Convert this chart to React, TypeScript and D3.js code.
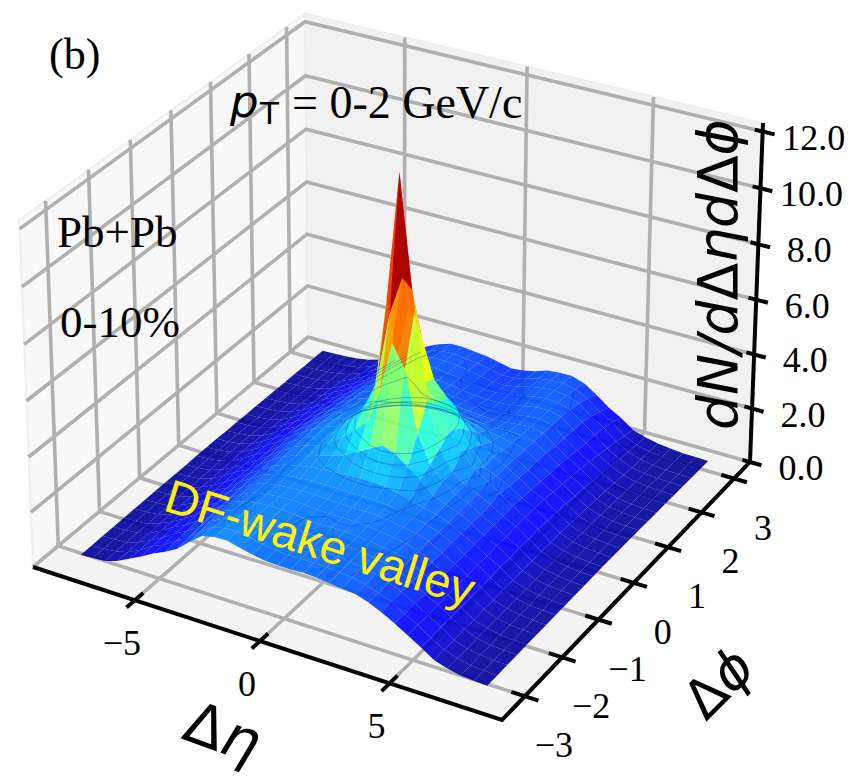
import React from "react";
import * as d3 from "d3";

const etaNodes = d3.range(33).map((i) => -8 + i * 0.5);
const phiNodes = d3.range(25).map((i) => -Math.PI + (i * Math.PI) / 12);

// dN/dDeta dDphi: one row per phi node, one value per eta node
const yieldRows: number[][] = [
  [.20,.22,.25,.40,.62,.85,1.10,1.30,1.55,1.95,2.30,2.40,2.42,2.30,2.20,2.12,2.10,2.10,2.12,2.10,2.05,2.00,1.95,1.80,1.60,1.35,1.08,.80,.50,.35,.25,.22,.20],
  [.20,.22,.27,.38,.60,.88,1.08,1.36,1.62,1.98,2.28,2.38,2.40,2.32,2.24,2.16,2.12,2.14,2.14,2.12,2.08,2.04,1.94,1.78,1.62,1.32,1.10,.78,.52,.36,.26,.22,.20],
  [.21,.23,.26,.41,.62,.86,1.14,1.38,1.66,2.02,2.26,2.36,2.38,2.34,2.26,2.20,2.16,2.16,2.18,2.16,2.12,2.06,1.98,1.82,1.60,1.36,1.08,.82,.50,.34,.27,.23,.21],
  [.21,.24,.28,.40,.64,.90,1.12,1.42,1.70,2.04,2.24,2.34,2.36,2.34,2.28,2.22,2.20,2.20,2.20,2.18,2.14,2.08,2.00,1.84,1.64,1.34,1.12,.80,.53,.36,.26,.24,.21],
  [.22,.23,.27,.43,.63,.88,1.16,1.44,1.72,2.04,2.22,2.30,2.34,2.34,2.30,2.24,2.22,2.24,2.24,2.20,2.16,2.10,2.02,1.88,1.62,1.38,1.10,.84,.51,.37,.28,.23,.22],
  [.22,.24,.29,.42,.66,.92,1.14,1.46,1.74,2.02,2.20,2.28,2.32,2.34,2.32,2.28,2.26,2.26,2.26,2.24,2.18,2.12,2.04,1.90,1.66,1.36,1.14,.82,.54,.36,.27,.24,.22],
  [.22,.25,.28,.44,.65,.90,1.18,1.48,1.76,2.04,2.20,2.28,2.32,2.34,2.34,2.32,2.30,2.30,2.30,2.28,2.22,2.14,2.06,1.92,1.64,1.40,1.12,.86,.52,.38,.29,.25,.22],
  [.23,.24,.30,.43,.67,.94,1.16,1.50,1.78,2.06,2.22,2.30,2.34,2.38,2.38,2.38,2.36,2.36,2.36,2.32,2.24,2.16,2.06,1.90,1.68,1.38,1.16,.84,.55,.37,.28,.25,.23],
  [.23,.25,.29,.45,.66,.92,1.20,1.50,1.78,2.06,2.24,2.32,2.42,2.46,2.50,2.54,2.56,2.56,2.52,2.44,2.32,2.18,2.08,1.92,1.66,1.42,1.14,.88,.54,.39,.30,.25,.23],
  [.23,.26,.31,.44,.68,.96,1.18,1.52,1.80,2.08,2.26,2.36,2.52,2.64,2.80,3.05,3.30,3.55,3.40,3.05,2.72,2.30,2.10,1.94,1.70,1.40,1.18,.86,.56,.38,.29,.26,.23],
  [.23,.25,.30,.46,.67,.94,1.22,1.52,1.82,2.10,2.30,2.42,2.70,3.00,3.40,3.80,5.00,6.90,6.10,3.90,2.95,2.45,2.14,1.96,1.68,1.44,1.16,.90,.55,.40,.31,.25,.23],
  [.24,.26,.32,.45,.70,.96,1.20,1.54,1.84,2.12,2.32,2.46,2.85,3.25,3.90,5.00,7.50,8.90,7.90,4.80,3.20,2.50,2.14,1.96,1.72,1.42,1.20,.88,.57,.39,.30,.26,.24],
  [.24,.27,.33,.47,.70,.98,1.24,1.56,1.86,2.14,2.34,2.50,2.95,3.40,4.20,7.60,12.2,8.20,5.00,4.40,3.50,2.90,2.40,2.10,1.80,1.46,1.20,.90,.56,.40,.31,.26,.24],
  [.24,.26,.32,.45,.70,.96,1.22,1.54,1.84,2.12,2.32,2.46,2.85,3.20,3.70,5.20,7.20,6.20,4.80,4.30,3.30,2.70,2.14,1.96,1.72,1.42,1.20,.88,.57,.39,.30,.26,.24],
  [.23,.26,.31,.44,.68,.96,1.18,1.50,1.80,2.08,2.26,2.40,2.60,2.85,3.15,3.50,3.90,4.00,3.90,3.60,2.90,2.50,2.20,1.98,1.70,1.40,1.18,.86,.54,.38,.29,.26,.23],
  [.23,.25,.30,.44,.66,.92,1.18,1.48,1.76,2.02,2.22,2.32,2.40,2.55,2.70,2.85,2.95,3.00,2.95,2.75,2.50,2.28,2.14,1.96,1.66,1.38,1.12,.84,.53,.37,.28,.25,.23],
  [.22,.24,.29,.42,.64,.90,1.14,1.44,1.72,1.98,2.14,2.22,2.25,2.32,2.38,2.45,2.50,2.50,2.45,2.35,2.25,2.16,2.08,1.96,1.68,1.34,1.10,.80,.50,.36,.27,.24,.22],
  [.22,.24,.28,.40,.60,.86,1.10,1.40,1.68,1.94,2.08,2.14,2.14,2.14,2.15,2.16,2.16,2.14,2.10,2.06,2.02,2.04,2.04,1.94,1.64,1.32,1.04,.76,.48,.34,.26,.23,.21],
  [.21,.23,.27,.38,.56,.82,1.04,1.34,1.62,1.88,2.04,2.10,2.08,2.06,2.04,2.02,2.00,1.96,1.92,1.90,1.92,1.98,2.02,1.92,1.58,1.28,1.00,.70,.46,.32,.25,.22,.20],
  [.21,.22,.26,.36,.52,.78,1.00,1.28,1.58,1.84,2.00,2.06,2.04,2.00,1.96,1.92,1.88,1.84,1.80,1.82,1.88,1.96,2.00,1.90,1.54,1.22,.94,.66,.42,.30,.24,.21,.20],
  [.20,.22,.25,.33,.48,.72,.94,1.20,1.52,1.78,1.96,2.02,2.00,1.96,1.90,1.84,1.78,1.76,1.76,1.80,1.90,1.98,2.00,1.88,1.52,1.18,.88,.60,.38,.28,.23,.20,.19],
  [.20,.21,.25,.32,.44,.66,.88,1.14,1.46,1.72,1.92,2.00,1.98,1.92,1.86,1.78,1.70,1.70,1.76,1.84,1.94,2.00,1.98,1.84,1.50,1.16,.80,.54,.34,.26,.22,.20,.18],
  [.19,.21,.24,.30,.40,.58,.82,1.06,1.38,1.64,1.84,1.94,1.94,1.90,1.84,1.74,1.66,1.66,1.74,1.86,1.94,1.98,1.92,1.76,1.40,1.12,.72,.48,.32,.24,.20,.18,.17],
  [.19,.20,.23,.28,.36,.52,.76,1.00,1.30,1.56,1.76,1.88,1.90,1.84,1.80,1.70,1.60,1.62,1.72,1.86,1.92,1.94,1.84,1.62,1.26,1.00,.62,.42,.30,.23,.19,.18,.16],
  [.18,.20,.22,.26,.34,.48,.70,.95,1.25,1.50,1.70,1.85,1.85,1.80,1.75,1.65,1.55,1.60,1.70,1.85,1.90,1.90,1.75,1.45,1.10,.85,.52,.38,.28,.22,.18,.17,.16],
];

const etaTicks = [-5, 0, 5];
const phiTicks = [-3, -2, -1, 0, 1, 2, 3];
const zTicks = [0, 2, 4, 6, 8, 10, 12];
const contourLevels = [0.4, 0.7, 1, 1.3, 1.6, 1.85, 2.05, 2.25, 2.5, 2.8, 3.1, 3.4];

const etaScale = d3.scaleLinear().domain([-9.2, 9.2]).range([0, 1]);
const phiScale = d3.scaleLinear().domain([-3.6, 3.5]).range([0, 1]);
const zScale = d3.scaleLinear().domain([0, 12.3]).range([0, 1]);
const colorNorm = d3.scaleLinear().domain([0, 9.5]).range([0, 1]).clamp(true);

const jetR = d3.scaleLinear().domain([0, 0.35, 0.66, 0.89, 1]).range([0, 0, 1, 1, 0.5]);
const jetG = d3.scaleLinear().domain([0, 0.125, 0.375, 0.64, 0.91, 1]).range([0, 0, 1, 1, 0, 0]);
const jetB = d3.scaleLinear().domain([0, 0.11, 0.34, 0.65, 1]).range([0.5, 1, 1, 0, 0]);
const jet = (z: number) => {
  const v = colorNorm(z);
  return `rgb(${Math.round(jetR(v) * 255)},${Math.round(jetG(v) * 255)},${Math.round(jetB(v) * 255)})`;
};

// box calibration: where the corners of the 3D axes box fall on the page
const makeProjection = () => {
  const [x0, y0] = [33, 567];
  const [x1, y1] = [502, 720];
  const [x2, y2] = [750, 462];
  const [x3, y3] = [308, 337];
  const [xB, yB] = [763, 123];
  const dx1 = x1 - x2, dx2 = x3 - x2, sx = x0 - x1 + x2 - x3;
  const dy1 = y1 - y2, dy2 = y3 - y2, sy = y0 - y1 + y2 - y3;
  const den = dx1 * dy2 - dx2 * dy1;
  const g = (sx * dy2 - dx2 * sy) / den;
  const h = (dx1 * sy - sx * dy1) / den;
  const a = x1 - x0 + g * x1, b = x3 - x0 + h * x3, c = x0;
  const d = y1 - y0 + g * y1, e = y3 - y0 + h * y3, f = y0;
  const xA = 305;
  const XA = b + c, WA = h + 1;
  const XB = a + b + c, YB = d + e + f, WB = g + h + 1;
  const k = (XB - XA - xB * WB + xA * WA) / (xB - xA);
  const m = xB * (WB + k) - XB;
  const n = yB * (WB + k) - YB;
  return (u: number, v: number, w: number): [number, number] => {
    const W = g * u + h * v + 1 + k * w;
    return [(a * u + b * v + c + m * w) / W, (d * u + e * v + f + n * w) / W];
  };
};
const proj = makeProjection();
const pt = (eta: number, phi: number, z: number) => proj(etaScale(eta), phiScale(phi), zScale(z));
const pathOf = (pts: [number, number][], close = false) => (d3.line()(pts) || "") + (close ? "Z" : "");

const serif = "'Liberation Serif', 'Times New Roman', serif";
const sans = "'DejaVu Sans', sans-serif";
const GRID = "#b0b0b0";

const contourGen = d3.contours().size([33, 25]).thresholds(contourLevels).smooth(true);
const flat = yieldRows.flat();
const contourLine = (lvl: number) =>
  d3
    .line<number[]>()
    .defined((p) => p[0] > 0.5 && p[0] < 32.5 && p[1] > 0.5 && p[1] < 24.5)
    .x((p) => pt(-8 + (p[0] - 0.5) * 0.5, -Math.PI + ((p[1] - 0.5) * Math.PI) / 12, lvl)[0])
    .y((p) => pt(-8 + (p[0] - 0.5) * 0.5, -Math.PI + ((p[1] - 0.5) * Math.PI) / 12, lvl)[1]);

export default function App() {
  const quads: { d: string; fill: string; key: string }[] = [];
  for (let r = phiNodes.length - 2; r >= 0; r--) {
    for (let c = 0; c < etaNodes.length - 1; c++) {
      const zs = [yieldRows[r][c], yieldRows[r][c + 1], yieldRows[r + 1][c + 1], yieldRows[r + 1][c]];
      quads.push({
        key: `${r}-${c}`,
        fill: jet(d3.mean(zs) as number),
        d: pathOf(
          [
            pt(etaNodes[c], phiNodes[r], zs[0]),
            pt(etaNodes[c + 1], phiNodes[r], zs[1]),
            pt(etaNodes[c + 1], phiNodes[r + 1], zs[2]),
            pt(etaNodes[c], phiNodes[r + 1], zs[3]),
          ],
          true
        ),
      });
    }
  }
  const contours = contourGen(flat);
  const etaD = etaScale.domain();
  const phiD = phiScale.domain();
  const zTop = zScale.domain()[1];

  return (
    <svg
      width={853}
      height={776}
      viewBox="0 0 853 776"
      style={{ position: "absolute", left: 0, top: 0, background: "#fff" }}
    >
      {/* panes */}
      <path d={pathOf([pt(etaD[0], phiD[0], 0), pt(etaD[0], phiD[1], 0), pt(etaD[0], phiD[1], zTop), pt(etaD[0], phiD[0], zTop)], true)} fill="#f8f8f8" stroke="#eeeeee" strokeWidth={2} />
      <path d={pathOf([pt(etaD[0], phiD[1], 0), pt(etaD[1], phiD[1], 0), pt(etaD[1], phiD[1], zTop), pt(etaD[0], phiD[1], zTop)], true)} fill="#f1f1f1" stroke="#eeeeee" strokeWidth={2} />
      <path d={pathOf([pt(etaD[0], phiD[0], 0), pt(etaD[1], phiD[0], 0), pt(etaD[1], phiD[1], 0), pt(etaD[0], phiD[1], 0)], true)} fill="#f4f4f4" stroke="#eeeeee" strokeWidth={2} />

      {/* grid */}
      <g fill="none" stroke={GRID} strokeWidth={3.6}>
        {zTicks.map((z) => (
          <path key={`z${z}`} d={pathOf([pt(etaD[0], phiD[0], z), pt(etaD[0], phiD[1], z), pt(etaD[1], phiD[1], z)])} />
        ))}
        {phiTicks.map((p) => (
          <path key={`p${p}`} d={pathOf([pt(etaD[0], p, zTop), pt(etaD[0], p, 0), pt(etaD[1], p, 0)])} />
        ))}
        {etaTicks.map((e) => (
          <path key={`e${e}`} d={pathOf([pt(e, phiD[0], 0), pt(e, phiD[1], 0), pt(e, phiD[1], zTop)])} />
        ))}
      </g>

      {/* surface */}
      <g>
        {quads.map((q) => (
          <path key={q.key} d={q.d} fill={q.fill} fillOpacity={0.9} />
        ))}
      </g>
      <g fill="none" stroke="#0a1a9a" strokeOpacity={0.3} strokeWidth={1}>
        {contours.map((ct) =>
          ct.coordinates.flatMap((poly, i) =>
            poly.map((ring, j) => <path key={`${ct.value}-${i}-${j}`} d={contourLine(ct.value)(ring) || ""} />)
          )
        )}
      </g>

      {/* axes */}
      <g fill="none" stroke="#000" strokeWidth={4}>
        <path d={pathOf([pt(etaD[0], phiD[0], 0), pt(etaD[1], phiD[0], 0), pt(etaD[1], phiD[1], 0), pt(etaD[1], phiD[1], zTop)])} strokeLinejoin="miter" />
        {etaTicks.map((e) => (
          <path key={e} d={pathOf([pt(e, phiD[0] + 0.2, 0), pt(e, phiD[0] - 0.2, 0)])} />
        ))}
        {phiTicks.map((p) => (
          <path key={p} d={pathOf([pt(etaD[1] - 0.5, p, 0), pt(etaD[1] + 0.5, p, 0)])} />
        ))}
        {zTicks.map((z) => (
          <path key={z} d={pathOf([pt(etaD[1] - 0.3, phiD[1], z), pt(etaD[1] + 0.45, phiD[1], z)])} />
        ))}
      </g>

      {/* tick labels */}
      <g fontFamily={serif} fontSize={36} fill="#000" textAnchor="middle">
        {etaTicks.map((e) => {
          const [x, y] = pt(e, phiD[0], 0);
          return (
            <text key={e} x={x - 13} y={y + 55}>
              {e < 0 ? `\u2212${-e}` : e}
            </text>
          );
        })}
        {phiTicks.map((p) => {
          const [x, y] = pt(etaD[1], p, 0);
          return (
            <text key={p} x={x + 29} y={y + 61}>
              {p < 0 ? `\u2212${-p}` : p}
            </text>
          );
        })}
        {zTicks.map((z) => {
          const [x, y] = pt(etaD[1], phiD[1], z);
          return (
            <text key={z} x={x + 51} y={y + 18}>
              {z.toFixed(1)}
            </text>
          );
        })}
      </g>

      {/* axis titles */}
      <text transform="translate(737,430) rotate(-90)" fontFamily={sans} fontSize={55} fill="#000">
        <tspan fontStyle="italic">dN</tspan>
        <tspan fontStyle="italic">/d</tspan>
        <tspan>Δ</tspan>
        <tspan fontStyle="italic">η</tspan>
        <tspan fontStyle="italic">d</tspan>
        <tspan>Δ</tspan>
        <tspan fontStyle="italic">ϕ</tspan>
      </text>
      <text transform="translate(180,738) rotate(20)" fontFamily={sans} fontSize={58} fill="#000">
        <tspan>Δ</tspan>
        <tspan fontStyle="italic">η</tspan>
      </text>
      <text transform="translate(706,722) rotate(-45)" fontFamily={sans} fontSize={54} fill="#000">
        <tspan>Δ</tspan>
        <tspan fontStyle="italic">ϕ</tspan>
      </text>

      {/* annotations */}
      <text x={49} y={69} fontFamily={serif} fontSize={44} fill="#000">(b)</text>
      <text x={230} y={117} fontFamily={sans} fontSize={45} fontStyle="italic" fill="#000">p</text>
      <text x={260} y={124} fontFamily={sans} fontSize={31} fill="#000">T</text>
      <text x={292} y={118} fontFamily={serif} fontSize={46} fill="#000" xmlSpace="preserve">= 0-2 GeV/c</text>
      <text x={57} y={247} fontFamily={serif} fontSize={45} fill="#000">Pb+Pb</text>
      <text x={60} y={337} fontFamily={serif} fontSize={45} fill="#000">0-10%</text>
      <text transform="translate(162,510) rotate(17.5)" fontFamily="'Liberation Sans', Arial, sans-serif" fontSize={47} fill="#fff200">DF-wake valley</text>
    </svg>
  );
}
